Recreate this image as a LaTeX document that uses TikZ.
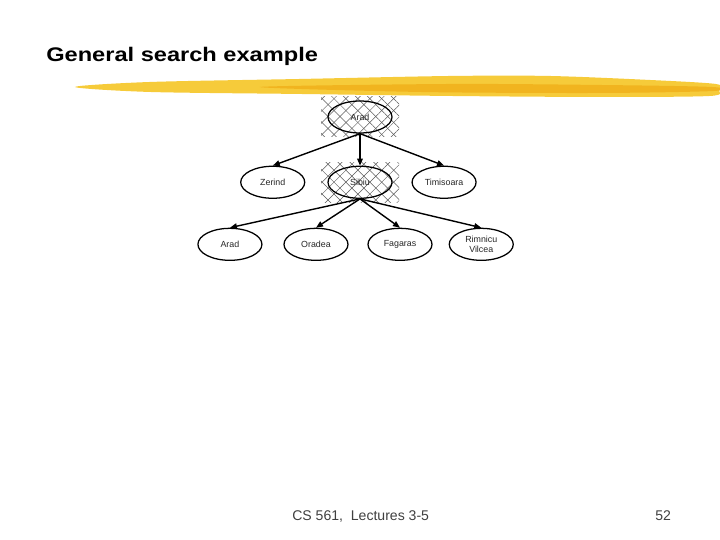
\documentclass[tikz,border=0pt]{standalone}
\usepackage{graphicx}
\usepackage{fontspec}
\setmainfont{Liberation Sans}
\usetikzlibrary{positioning,shapes.geometric,arrows.meta,patterns.meta,backgrounds}
\definecolor{brushyellow}{HTML}{F6CB3A}
\definecolor{brushorange}{HTML}{F1B41F}
\tikzset{
  citynode/.style={ellipse,draw,line width=0.9pt,minimum width=1.6cm,minimum height=0.8cm,
    inner sep=0pt,align=center,font=\fontsize{6.3}{7}\selectfont,text=black!85},
  hatchbox/.style={rectangle,minimum width=1.95cm,minimum height=1.0cm,inner sep=0pt,
    pattern={Lines[angle=45,distance=6pt,line width=0.35pt]},pattern color=black!65,
    postaction={pattern={Lines[angle=-45,distance=6pt,line width=0.35pt]},pattern color=black!65}},
  expand/.style={-{Triangle[length=5pt,width=4pt]},line width=1pt},
  slidetitle/.style={anchor=base west,inner sep=0pt,font=\bfseries\fontsize{14}{16}\selectfont},
  footer/.style={anchor=base west,inner sep=0pt,font=\fontsize{10}{12}\selectfont,text=black!75}
}

\begin{document}
\begin{tikzpicture}[node distance=0.8cm and 0.5cm]
\useasboundingbox (0,0) rectangle (18,13.5);

% yellow brush stroke under the title
\begin{scope}[x=0.025cm,y=-0.025cm,yshift=13.5cm]
\fill[brushyellow] plot[smooth cycle] coordinates {(75,87) (150,82) (300,79) (450,76) (550,76)
  (650,80) (716,84) (719,90) (710,96) (600,97) (450,96) (300,94) (150,92)};
\fill[brushorange] plot[smooth cycle] coordinates {(260,87) (450,84) (600,85) (712,87)
  (714,91) (600,93) (420,92)};
\end{scope}

\node[slidetitle] (title) at (1.15,11.95) {\scalebox{1.2}[1]{General search example}};

\node[citynode] (arad) at (9.0,10.575) {Arad};
\node[citynode,below=of arad] (sibiu) {Sibiu};
\node[citynode,left=0.55cm of sibiu] (zerind) {Zerind};
\node[citynode,right=0.47cm of sibiu] (timisoara) {Timisoara};

\node[citynode,below=0.72cm of sibiu,xshift=-1.1cm] (oradea) {Oradea};
\node[citynode,below=0.72cm of sibiu,xshift=1.0cm] (fagaras) {Fagaras};
\node[citynode,left=0.52cm of oradea] (aradb) {Arad};
\node[citynode,right=0.4cm of fagaras] (rimnicu) {Rimnicu\\Vilcea};

% expanded nodes are hatched
\begin{scope}[on background layer]
\node[hatchbox] (aradhatch) at (arad) {};
\node[hatchbox] (sibiuhatch) at (sibiu) {};
\end{scope}

\draw[expand] (arad.south)--(zerind.north);
\draw[expand] (arad.south)--(sibiu.north);
\draw[expand] (arad.south)--(timisoara.north);

\draw[expand] (sibiu.south)--(aradb.north);
\draw[expand] (sibiu.south)--(oradea.north);
\draw[expand] (sibiu.south)--(fagaras.north);
\draw[expand] (sibiu.south)--(rimnicu.north);

\node[footer] (course) at (7.3,0.5) {CS 561,\ \ Lectures 3-5};
\node[footer] (page) at (16.375,0.5) {52};
\end{tikzpicture}
\end{document}
